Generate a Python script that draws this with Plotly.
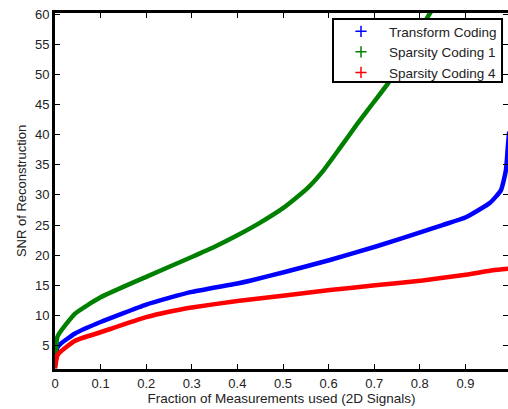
import plotly.graph_objects as go

tc_x = [0.0, 0.005, 0.011, 0.044, 0.1, 0.2, 0.25, 0.3, 0.4, 0.43, 0.504, 0.603,
        0.702, 0.806, 0.85, 0.901, 0.954, 0.978, 0.989, 0.993, 0.996]
tc_y = [1.6, 4.6, 5.2, 7.0, 8.9, 11.8, 12.9, 13.9, 15.3, 15.8, 17.2, 19.2,
        21.4, 23.9, 25.0, 26.3, 28.7, 30.8, 34.2, 38.0, 40.5]

sc1_x = [0.0, 0.005, 0.011, 0.044, 0.1, 0.2, 0.3, 0.35, 0.4, 0.45, 0.5,
         0.552, 0.588, 0.625, 0.662, 0.698, 0.731, 0.821, 0.835]
sc1_y = [1.4, 6.4, 7.2, 10.3, 13.0, 16.4, 19.7, 21.4, 23.3, 25.4, 27.8,
         31.0, 34.0, 37.8, 41.7, 45.3, 48.6, 60.0, 61.6]

sc4_x = [0.0, 0.005, 0.011, 0.044, 0.1, 0.2, 0.25, 0.3, 0.4, 0.504, 0.603,
         0.702, 0.806, 0.905, 0.96, 1.0]
sc4_y = [1.2, 3.3, 3.9, 5.8, 7.2, 9.7, 10.6, 11.3, 12.4, 13.3, 14.2,
         15.0, 15.8, 16.8, 17.5, 17.8]

names = ["Transform Coding", "Sparsity Coding 1", "Sparsity Coding 4"]
colors = ["#0000ff", "#008000", "#ff0000"]
x_ticks = [0, 0.1, 0.2, 0.3, 0.4, 0.5, 0.6, 0.7, 0.8, 0.9]
x_ticktext = ["0", "0.1", "0.2", "0.3", "0.4", "0.5", "0.6", "0.7", "0.8", "0.9"]
y_ticks = [5, 10, 15, 20, 25, 30, 35, 40, 45, 50, 55, 60]

series = [(tc_x, tc_y), (sc1_x, sc1_y), (sc4_x, sc4_y)]

FONT = "Liberation Sans, Arial, sans-serif"
fig = go.Figure()

for (xs, ys), c in zip(series, colors):
    fig.add_trace(go.Scatter(x=xs, y=ys, mode="lines",
                             line=dict(color=c, width=4.5, shape="spline", smoothing=0.5),
                             showlegend=False, hoverinfo="skip"))

for n, c in zip(names, colors):
    fig.add_trace(go.Scatter(x=[None], y=[None], mode="markers", name=n,
                             marker=dict(symbol="cross-thin", size=8, color=c,
                                         line=dict(color=c, width=1.5))))

# right-side tick marks (right axis line is cropped out)
fig.add_trace(go.Scatter(x=[None], y=[None], yaxis="y2", showlegend=False, hoverinfo="skip"))

# legend frame (drawn as a shape so its size matches the reference)
fig.add_shape(type="rect", xref="paper", yref="paper",
              x0=0.6137, x1=0.9868, y0=0.8062, y1=0.9831,
              line=dict(color="black", width=2), fillcolor="white", layer="above")

fig.update_layout(
    width=508, height=409,
    margin=dict(l=55, r=0, t=13, b=40, autoexpand=False),
    paper_bgcolor="white", plot_bgcolor="white",
    font=dict(family=FONT, size=13, color="#222"),
    xaxis=dict(range=[0, 0.9934], tickvals=x_ticks, ticktext=x_ticktext,
               ticks="inside", ticklen=5, tickcolor="black", tickwidth=1,
               showline=True, linecolor="black", linewidth=3, mirror="ticks",
               showgrid=False, zeroline=False, automargin=False,
               title=dict(text="Fraction of Measurements used (2D Signals)",
                          font=dict(size=13.5), standoff=4)),
    yaxis=dict(range=[1.1, 60.2], tickvals=y_ticks,
               ticks="inside", ticklen=5, tickcolor="black", tickwidth=1,
               showline=True, linecolor="black", linewidth=3,
               showgrid=False, zeroline=False, automargin=False,
               title=dict(text="SNR of Reconstruction", font=dict(size=13), standoff=6)),
    yaxis2=dict(range=[1.1, 60.2], tickvals=y_ticks, overlaying="y", side="right",
                ticks="inside", ticklen=5, tickcolor="black", tickwidth=1,
                showticklabels=False, showline=False, showgrid=False, zeroline=False,
                automargin=False),
    legend=dict(x=0.6137, xanchor="left", y=0.9915, yanchor="top",
                bgcolor="rgba(0,0,0,0)", borderwidth=0,
                font=dict(size=13.5, color="#222"), itemwidth=46),
)

fig.write_html("out.html", config={"displayModeBar": False},
               post_script="document.body.style.margin='0';document.body.style.overflow='hidden';")
